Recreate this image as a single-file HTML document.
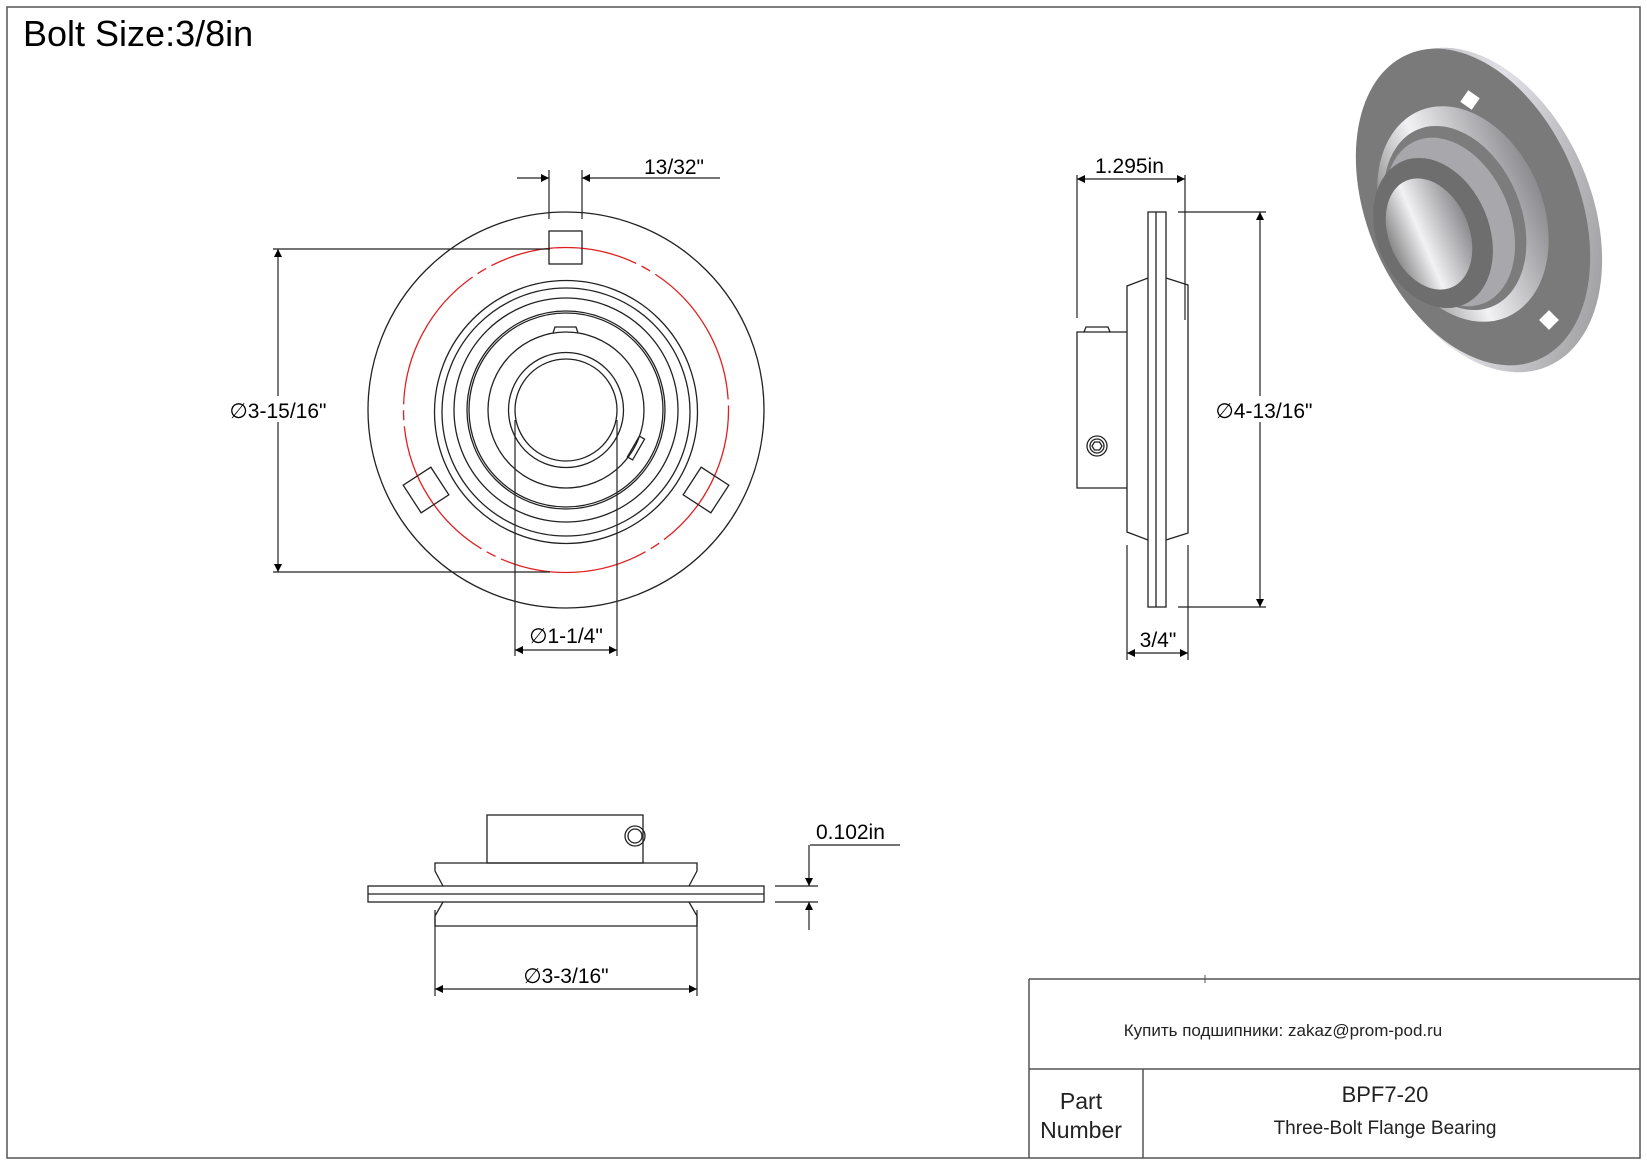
<!DOCTYPE html>
<html><head><meta charset="utf-8"><style>html,body{margin:0;padding:0;background:#fff}svg{display:block}</style></head>
<body>
<svg width="1647" height="1165" viewBox="0 0 1647 1165" xmlns="http://www.w3.org/2000/svg" font-family="Liberation Sans, sans-serif">
<defs>
<marker id="a" viewBox="0 0 10 10" refX="10" refY="5" markerWidth="14" markerHeight="8" markerUnits="userSpaceOnUse" orient="auto-start-reverse"><path d="M0,0L10,5L0,10z" fill="#000"/></marker>
<linearGradient id="g1" x1="0" y1="0" x2="1" y2="1"><stop offset="0" stop-color="#9a9a9a"/><stop offset="0.5" stop-color="#e0e0e6"/><stop offset="1" stop-color="#8a8a8a"/></linearGradient>
<linearGradient id="g2" x1="0" y1="0" x2="1" y2="0"><stop offset="0" stop-color="#888"/><stop offset="0.4" stop-color="#f2f2f5"/><stop offset="1" stop-color="#8c8c90"/></linearGradient>
</defs>
<rect x="7" y="7" width="1633" height="1151" fill="none" stroke="#555" stroke-width="1.5"/>
<text x="23" y="46" font-size="36">Bolt Size:3/8in</text>

<!-- front view -->
<g fill="none" stroke="#222" stroke-width="1.3">
<circle cx="566" cy="410" r="198"/>
<circle cx="566" cy="410" r="162.5" stroke="#e02020" stroke-dasharray="150 6 10 6"/>
<circle cx="566" cy="412" r="131.5"/>
<circle cx="566" cy="412" r="124"/>
<circle cx="566" cy="410" r="112"/>
<circle cx="566" cy="410" r="99"/>
<circle cx="566" cy="410" r="97"/>
<circle cx="566" cy="410" r="78"/>
<circle cx="566" cy="410" r="57.5"/>
<circle cx="566" cy="410" r="51"/>
<rect x="549" y="231" width="33" height="33"/>
<rect x="-16.5" y="-16.5" width="33" height="33" transform="translate(426,490) rotate(-33)"/>
<rect x="-16.5" y="-16.5" width="33" height="33" transform="translate(706,490) rotate(33)"/>
<path d="M553,333 L555,327 L576,327 L578,333"/>
<rect x="-3" y="-12" width="6" height="24" transform="translate(636,448) rotate(30)"/>
</g>
<g fill="none" stroke="#222" stroke-width="1.2">
<line x1="549" y1="170" x2="549" y2="219"/><line x1="582" y1="170" x2="582" y2="219"/>
<line x1="517" y1="178" x2="549" y2="178" marker-end="url(#a)"/>
<line x1="720" y1="178" x2="582" y2="178" marker-end="url(#a)"/>
<line x1="273" y1="249" x2="550" y2="249"/><line x1="273" y1="572" x2="550" y2="572"/>
<line x1="278" y1="410" x2="278" y2="249" marker-end="url(#a)"/>
<line x1="278" y1="410" x2="278" y2="572" marker-end="url(#a)"/>
<line x1="515" y1="420" x2="515" y2="656"/><line x1="617" y1="420" x2="617" y2="656"/>
<line x1="566" y1="650" x2="515" y2="650" marker-end="url(#a)"/>
<line x1="566" y1="650" x2="617" y2="650" marker-end="url(#a)"/>
</g>
<text x="644" y="174" font-size="21">13/32"</text>
<rect x="222" y="396" width="112" height="26" fill="#fff"/>
<text x="278" y="418" font-size="21" text-anchor="middle">∅3-15/16"</text>
<text x="566" y="643" font-size="21" text-anchor="middle">∅1-1/4"</text>

<!-- side view -->
<g fill="none" stroke="#222" stroke-width="1.3">
<rect x="1148" y="212" width="18" height="395"/>
<line x1="1156" y1="212" x2="1156" y2="607"/>
<path d="M1148,278 L1127,286 L1127,532 L1148,540"/>
<path d="M1166,278 L1188,285 L1188,533 L1166,540"/>
<path d="M1127,332 L1077,332 L1077,488 L1127,488"/>
<path d="M1084,332 L1086,327 L1108,327 L1110,332"/>
<circle cx="1097" cy="446" r="10"/><circle cx="1097" cy="446" r="7"/>
<path d="M1092,446 L1094.5,442 L1099.5,442 L1102,446 L1099.5,450 L1094.5,450 Z"/>
</g>
<g fill="none" stroke="#222" stroke-width="1.2">
<line x1="1077" y1="175" x2="1077" y2="318"/><line x1="1185" y1="175" x2="1185" y2="320"/>
<line x1="1131" y1="179" x2="1077" y2="179" marker-end="url(#a)"/>
<line x1="1131" y1="179" x2="1185" y2="179" marker-end="url(#a)"/>
<line x1="1178" y1="212" x2="1266" y2="212"/><line x1="1178" y1="607" x2="1266" y2="607"/>
<line x1="1260" y1="410" x2="1260" y2="212" marker-end="url(#a)"/>
<line x1="1260" y1="410" x2="1260" y2="607" marker-end="url(#a)"/>
<line x1="1127" y1="545" x2="1127" y2="660"/><line x1="1188" y1="545" x2="1188" y2="660"/>
<line x1="1158" y1="653" x2="1127" y2="653" marker-end="url(#a)"/>
<line x1="1158" y1="653" x2="1188" y2="653" marker-end="url(#a)"/>
</g>
<text x="1095" y="173" font-size="21">1.295in</text>
<rect x="1208" y="396" width="112" height="26" fill="#fff"/>
<text x="1264" y="418" font-size="21" text-anchor="middle">∅4-13/16"</text>
<text x="1158" y="647" font-size="21" text-anchor="middle">3/4"</text>

<!-- bottom view -->
<g fill="none" stroke="#222" stroke-width="1.3">
<rect x="368" y="886" width="396" height="16"/>
<line x1="368" y1="894" x2="764" y2="894"/>
<path d="M443,886 L435,871 L435,863 L697,863 L697,871 L689,886"/>
<path d="M443,902 L435,916 L435,926 L697,926 L697,916 L689,902"/>
<rect x="487" y="815" width="156" height="48"/>
<circle cx="635" cy="836" r="10"/><circle cx="635" cy="836" r="7"/>
</g>
<g fill="none" stroke="#222" stroke-width="1.2">
<line x1="775" y1="886" x2="818" y2="886"/><line x1="775" y1="902" x2="818" y2="902"/>
<line x1="810" y1="845" x2="900" y2="845"/>
<line x1="809" y1="845" x2="809" y2="886" marker-end="url(#a)"/>
<line x1="809" y1="930" x2="809" y2="902" marker-end="url(#a)"/>
<line x1="435" y1="910" x2="435" y2="996"/><line x1="697" y1="910" x2="697" y2="996"/>
<line x1="566" y1="989" x2="435" y2="989" marker-end="url(#a)"/>
<line x1="566" y1="989" x2="697" y2="989" marker-end="url(#a)"/>
</g>
<text x="816" y="839" font-size="21">0.102in</text>
<text x="566" y="983" font-size="21" text-anchor="middle">∅3-3/16"</text>

<!-- 3D view -->
<ellipse cx="1481" cy="210" rx="110" ry="170" fill="url(#g1)" transform="rotate(-23 1481 210)"/>
<ellipse cx="1473" cy="207" rx="106" ry="166" fill="#7a7a7a" transform="rotate(-23 1473 207)"/>
<ellipse cx="1463" cy="214" rx="80" ry="112" fill="url(#g2)" transform="rotate(-23 1463 214)"/>
<ellipse cx="1455" cy="218" rx="66" ry="96" fill="#7c7c7c" transform="rotate(-23 1455 218)"/>
<ellipse cx="1450" cy="222" rx="60" ry="88" fill="#a8a8ac" transform="rotate(-23 1450 222)"/>
<ellipse cx="1433" cy="233" rx="56" ry="78" fill="#6e6e6e" transform="rotate(-23 1433 233)"/>
<ellipse cx="1429" cy="234" rx="40" ry="58" fill="url(#g2)" transform="rotate(-23 1429 234)"/>
<rect x="1463" y="93" width="14" height="14" fill="#fff" transform="rotate(35 1470 100)"/>
<rect x="1542" y="313" width="14" height="14" fill="#fff" transform="rotate(45 1549 320)"/>

<!-- title block -->
<g fill="none" stroke="#555" stroke-width="1.5">
<line x1="1029" y1="979" x2="1640" y2="979"/>
<line x1="1029" y1="979" x2="1029" y2="1158"/>
<line x1="1029" y1="1069" x2="1640" y2="1069"/>
<line x1="1143" y1="1069" x2="1143" y2="1158"/>
<line x1="1205" y1="975" x2="1205" y2="983" stroke-width="1"/>
</g>
<text x="1283" y="1036" font-size="17" text-anchor="middle" fill="#222">Купить подшипники: zakaz@prom-pod.ru</text>
<text x="1081" y="1109" font-size="23" text-anchor="middle" fill="#222">Part</text>
<text x="1081" y="1138" font-size="23" text-anchor="middle" fill="#222">Number</text>
<text x="1385" y="1102" font-size="22" text-anchor="middle" fill="#222">BPF7-20</text>
<text x="1385" y="1134" font-size="19" text-anchor="middle" fill="#222">Three-Bolt Flange Bearing</text>
</svg>
</body></html>
